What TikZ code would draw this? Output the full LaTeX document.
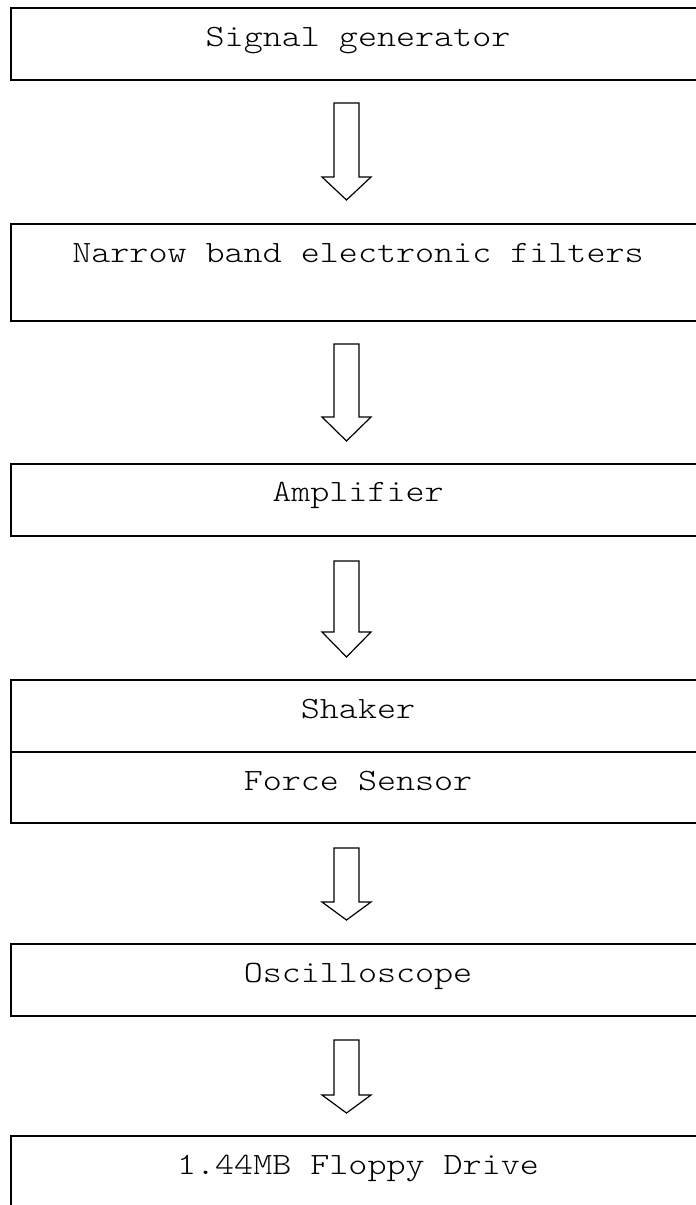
\documentclass[tikz,border=0pt]{standalone}
\usepackage{fontspec}
\setmonofont[FakeStretch=1.17]{Latin Modern Mono Light}
\usetikzlibrary{positioning}

% hollow block arrow: top of shaft, base of head, tip
\newcommand{\flowarrow}[3]{%
  \draw[arrowline] (334,#1) -- (359,#1) -- (359,#2) -- (371,#2) -- (346.5,#3) -- (322,#2) -- (334,#2) -- cycle;}

\begin{document}
\begin{tikzpicture}[
  x=1pt, y=-1pt,
  every node/.style={font=\ttfamily\fontsize{31}{36}\selectfont},
  stagebox/.style={rectangle, draw=black, line width=1.5pt, minimum width=694pt, inner sep=0pt},
  stagetext/.style={anchor=base, inner sep=0pt},
  arrowline/.style={draw=black, line width=1.2pt, line join=miter},
]
\useasboundingbox (0,0) rectangle (696,1205);

% Stages
\node[stagebox, minimum height=72pt] (siggen) at (358,44) {};
\node[stagebox, minimum height=97pt] (filters) at (358,272.5) {};
\node[stagebox, minimum height=72pt] (amp) at (358,500) {};
\node[stagebox, minimum height=72pt] (shaker) at (358,716) {};
\node[stagebox, minimum height=71pt] (force) at (358,787.5) {};
\node[stagebox, minimum height=72pt] (scope) at (358,980) {};
\node[stagebox, minimum height=72pt] (floppy) at (358,1172) {};

% Labels
\node[stagetext] (siggentxt) at (358,46) {Signal generator};
\node[stagetext] (filterstxt) at (358,262) {Narrow band electronic filters};
\node[stagetext] (amptxt) at (358,501) {Amplifier};
\node[stagetext] (shakertxt) at (358,718) {Shaker};
\node[stagetext] (forcetxt) at (358,790) {Force Sensor};
\node[stagetext] (scopetxt) at (358,982) {Oscilloscope};
\node[stagetext] (floppytxt) at (358,1174) {1.44MB Floppy Drive};

% Arrows between stages
\flowarrow{103}{177}{200}
\flowarrow{344}{417}{441}
\flowarrow{561}{632}{657}
\flowarrow{848}{902}{920}
\flowarrow{1040}{1095}{1113}

\end{tikzpicture}
\end{document}
